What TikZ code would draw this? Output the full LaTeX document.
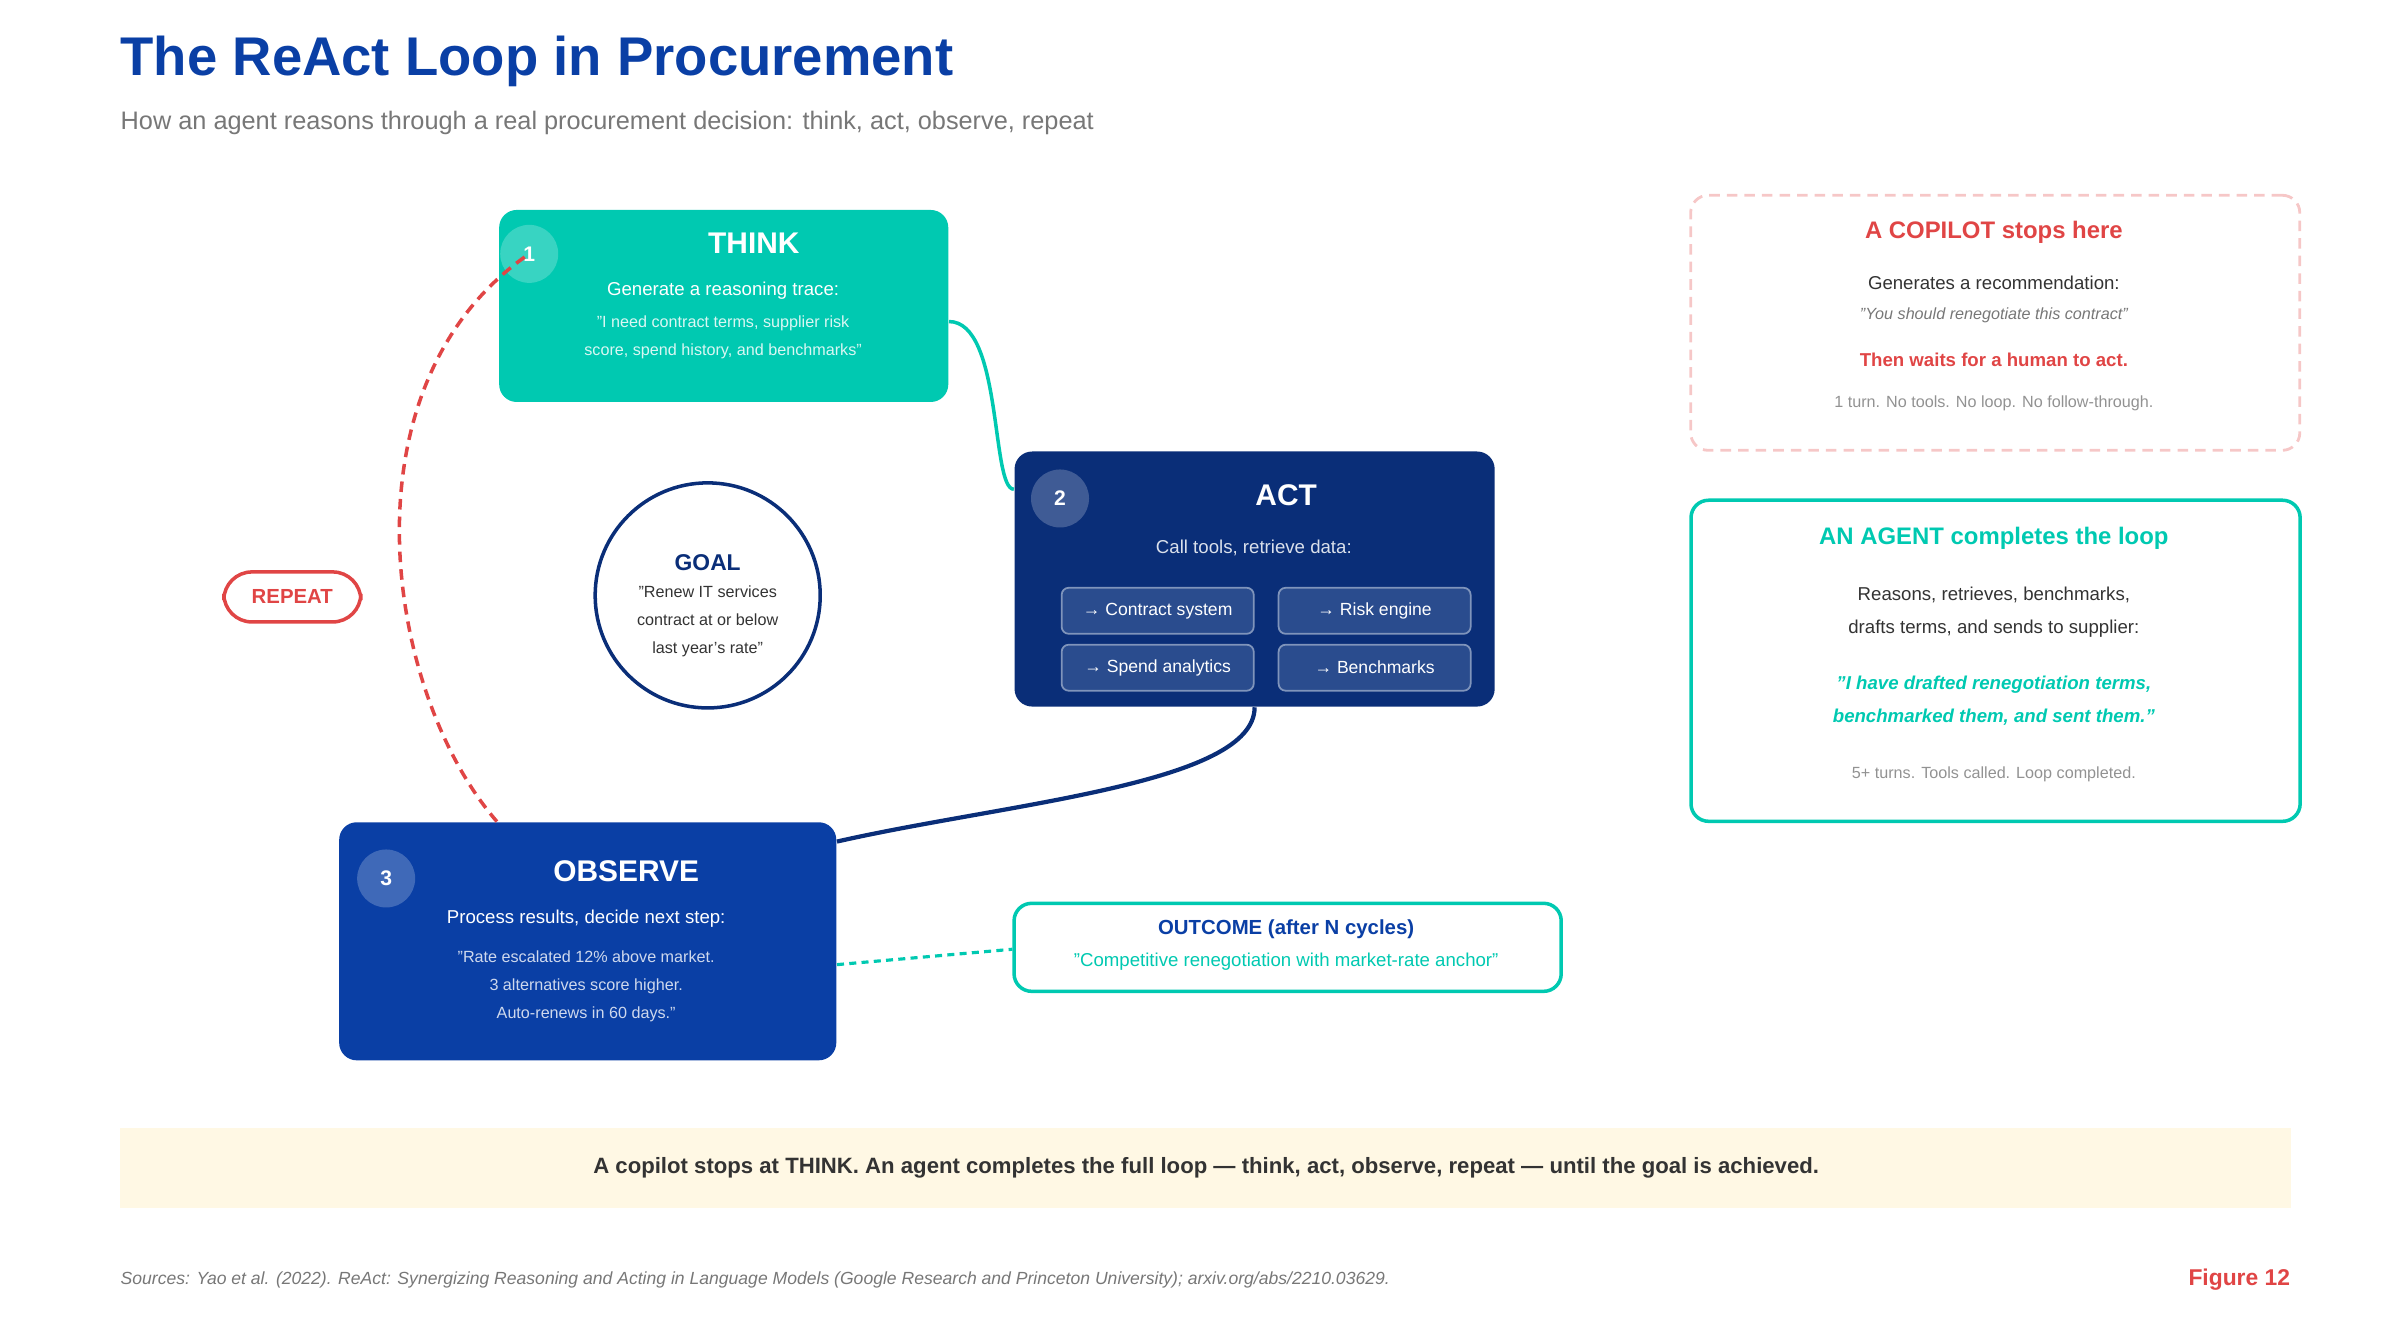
\documentclass[tikz,border=0pt]{standalone}
\usepackage{fontspec}
\setmainfont{Liberation Sans}
\usetikzlibrary{calc}
\definecolor{navy}{HTML}{0A2E78}
\definecolor{royal}{HTML}{0A3FA5}
\definecolor{teal}{HTML}{00C9B1}
\definecolor{alert}{HTML}{E04545}
\definecolor{ink}{HTML}{333333}
\definecolor{mute}{HTML}{777777}
\definecolor{toolfill}{HTML}{2A4C8E}
\definecolor{cream}{HTML}{FFF8E4}
\tikzset{
	box/.style={rounded corners=5pt, inner sep=0pt, anchor=north west},
	badge/.style={circle, fill=white, fill opacity=0.22, text opacity=1, text=white,
		minimum size=0.58cm, inner sep=0pt, font=\fontsize{6}{7}\selectfont\bfseries},
	head/.style={text=white, font=\fontsize{8.5}{10}\selectfont\bfseries},
	body/.style={font=\fontsize{5.3}{6.5}\selectfont},
	small/.style={font=\fontsize{4.6}{8}\selectfont, align=center},
	tool/.style={draw=white!40!toolfill, fill=toolfill, rounded corners=2pt, line width=0.5pt,
		minimum width=1.92cm, minimum height=0.46cm, text=white, font=\fontsize{5}{6}\selectfont},
}
\begin{document}
\begin{tikzpicture}[x=0.015385cm, y=-0.015385cm]
	\useasboundingbox (0,0) rectangle (1560,863);
	% Titel
	\node[anchor=west, inner sep=0pt, text=royal, font=\fontsize{15.5}{18}\selectfont\bfseries] (title) at (78,40) {The ReAct Loop in Procurement};
	\node[anchor=west, inner sep=0pt, text=mute, font=\fontsize{7.2}{9}\selectfont] (subtitle) at (78,80) {How an agent reasons through a real procurement decision: think, act, observe, repeat};

	% Schleife
	\node[box, fill=teal, minimum width=4.49cm, minimum height=1.92cm] (think) at (324,136) {};
	\node[badge] (b1) at (344,165) {1};
	\node[head] at (490,158) {THINK};
	\node[body, text=white] at (470,189) {Generate a reasoning trace:};
	\node[small, text=white!85!teal] at (470,219) {"I need contract terms, supplier risk\\score, spend history, and benchmarks"};

	\node[box, fill=navy, minimum width=4.80cm, minimum height=2.55cm] (act) at (659,293) {};
	\node[badge] (b2) at (689,324) {2};
	\node[head] at (836,322) {ACT};
	\node[body, text=white!85!navy] at (815,356) {Call tools, retrieve data:};
	\node[tool] (t1) at (752.5,397) {→ Contract system};
	\node[tool] (t2) at (893.5,397) {→ Risk engine};
	\node[tool] (t3) at (752.5,434) {→ Spend analytics};
	\node[tool] (t4) at (893.5,434) {→ Benchmarks};

	\node[box, fill=royal, minimum width=4.97cm, minimum height=2.38cm] (observe) at (220,534) {};
	\node[badge] (b3) at (251,571) {3};
	\node[head] at (407,566) {OBSERVE};
	\node[body, text=white] at (381,597) {Process results, decide next step:};
	\node[small, text=white!80!royal] at (381,641) {"Rate escalated 12\% above market.\\3 alternatives score higher.\\Auto-renews in 60 days."};

	\node[circle, draw=navy, line width=1pt, minimum size=2.25cm] (goal) at (460,387) {};
	\node[text=navy, font=\fontsize{6.5}{8}\selectfont\bfseries] at (460,366) {GOAL};
	\node[small, text=ink] at (460,404) {"Renew IT services\\contract at or below\\last year's rate"};

	\node[draw=alert, line width=1pt, rounded corners=8pt, minimum width=1.37cm, minimum height=0.5cm,
		text=alert, font=\fontsize{5.8}{7}\selectfont\bfseries] (repeat) at (190,388) {REPEAT};

	\draw[teal, line width=1pt] ($(think.north east)+(0,73)$) .. controls +(35,0) and +(-15,0) .. ($(act.north west)+(0,25)$);
	\draw[navy, line width=1.2pt] (act.south) .. controls +(0,50) and +(110,-25) .. ($(observe.north east)+(0,13)$);
	\draw[alert, line width=1pt, dash pattern=on 3pt off 2pt] ($(observe.north west)+(103,0)$) .. controls (250,450) and (220,250) .. (b1.center);
	\draw[teal, line width=0.9pt, dash pattern=on 2pt off 1.5pt] ($(observe.north east)+(0,93)$) -- (658,617) coordinate (oc);

	% Ergebnis
	\node[box, draw=teal, line width=1pt, fill=white, minimum width=5.47cm, minimum height=0.88cm] (outcome) at (658,586) {};
	\node[text=royal, font=\fontsize{5.8}{7}\selectfont\bfseries] at (836,604) {OUTCOME (after N cycles)};
	\node[body, text=teal] at (836,625) {"Competitive renegotiation with market-rate anchor"};

	% Vergleich
	\node[box, draw=alert!30, dash pattern=on 3pt off 2pt, line width=0.8pt, minimum width=6.09cm, minimum height=2.55cm] (copilot) at (1098,126) {};
	\node[text=alert, font=\fontsize{6.8}{8}\selectfont\bfseries] at (1296,151) {A COPILOT stops here};
	\node[body, text=ink] at (1296,184) {Generates a recommendation:};
	\node[small, text=mute, font=\fontsize{4.6}{6}\selectfont\itshape] at (1296,205) {"You should renegotiate this contract"};
	\node[text=alert, font=\fontsize{5.3}{6.5}\selectfont\bfseries] at (1296,234) {Then waits for a human to act.};
	\node[small, text=mute!80] at (1296,262) {1 turn. No tools. No loop. No follow-through.};

	\node[box, draw=teal, line width=1pt, minimum width=6.09cm, minimum height=3.21cm] (agent) at (1098,324) {};
	\node[text=teal, font=\fontsize{6.8}{8}\selectfont\bfseries] at (1296,350) {AN AGENT completes the loop};
	\node[body, text=ink, align=center, font=\fontsize{5.3}{9.2}\selectfont] at (1296,398) {Reasons, retrieves, benchmarks,\\drafts terms, and sends to supplier:};
	\node[text=teal, align=center, font=\fontsize{5.3}{9.2}\selectfont\bfseries\itshape] at (1296,455.5) {"I have drafted renegotiation terms,\\benchmarked them, and sent them."};
	\node[small, text=mute!80] at (1296,503) {5+ turns. Tools called. Loop completed.};

	% Fussleiste
	\fill[cream] (78,733) rectangle (1489,785);
	\node[text=ink, font=\fontsize{6.3}{8}\selectfont\bfseries] (banner) at (784,759) {A copilot stops at THINK. An agent completes the full loop — think, act, observe, repeat — until the goal is achieved.};
	\node[anchor=west, inner sep=0pt, text=mute, font=\fontsize{5}{6}\selectfont\itshape] (sources) at (78,832) {Sources: Yao et al. (2022). ReAct: Synergizing Reasoning and Acting in Language Models (Google Research and Princeton University); arxiv.org/abs/2210.03629.};
	\node[anchor=east, inner sep=0pt, text=alert, font=\fontsize{6.5}{8}\selectfont\bfseries] (figure) at (1489,832) {Figure 12};
\end{tikzpicture}
\end{document}
